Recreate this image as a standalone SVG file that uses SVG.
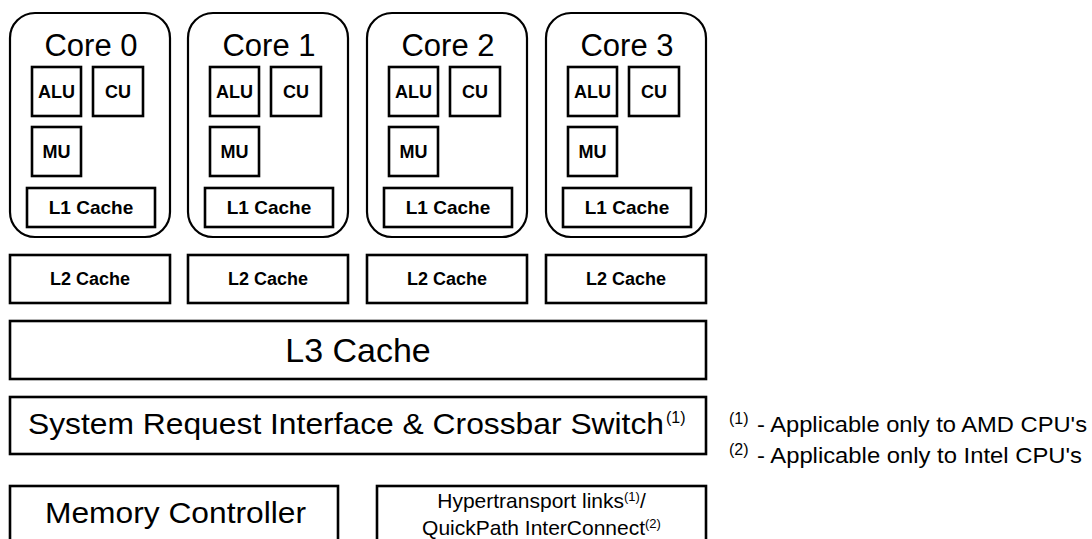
<svg xmlns="http://www.w3.org/2000/svg" width="1092" height="539" viewBox="0 0 1092 539">
<style>
  .core{fill:#fff;stroke:#000;stroke-width:2.2}
  .box{fill:#fff;stroke:#000;stroke-width:2.6}
  .b{font-family:"Liberation Sans",Arial,sans-serif;font-weight:bold;font-size:18px;text-anchor:middle;fill:#000}
  .r{font-family:"Liberation Sans",Arial,sans-serif;font-size:31px;text-anchor:middle;fill:#000}
  .s{font-family:"Liberation Sans",Arial,sans-serif;fill:#000}
</style>
<defs>
  <g id="coreTpl">
    <rect class="core" x="0" y="13" width="160" height="224" rx="25" ry="25"/>
    <rect class="box" x="22" y="67" width="49" height="49"/>
    <text class="b" x="46.5" y="98">ALU</text>
    <rect class="box" x="83" y="67" width="50" height="49"/>
    <text class="b" x="108" y="98">CU</text>
    <rect class="box" x="22" y="127" width="49" height="49"/>
    <text class="b" x="46.5" y="158">MU</text>
    <rect class="box" x="17" y="188" width="128" height="39"/>
    <text class="b" x="81" y="214" style="font-size:19px">L1 Cache</text>
  </g>
</defs>
<g id="core0" transform="translate(10,0)">
  <use href="#coreTpl"/>
  <text class="r" x="81" y="56">Core 0</text>
</g>
<g id="core1" transform="translate(188,0)">
  <use href="#coreTpl"/>
  <text class="r" x="81" y="56">Core 1</text>
</g>
<g id="core2" transform="translate(367,0)">
  <use href="#coreTpl"/>
  <text class="r" x="81" y="56">Core 2</text>
</g>
<g id="core3" transform="translate(546,0)">
  <use href="#coreTpl"/>
  <text class="r" x="81" y="56">Core 3</text>
</g>
<g id="l2-0"><rect class="box" x="10" y="255" width="160" height="48"/><text class="b" x="90" y="285">L2 Cache</text></g>
<g id="l2-1"><rect class="box" x="188" y="255" width="160" height="48"/><text class="b" x="268" y="285">L2 Cache</text></g>
<g id="l2-2"><rect class="box" x="367" y="255" width="160" height="48"/><text class="b" x="447" y="285">L2 Cache</text></g>
<g id="l2-3"><rect class="box" x="546" y="255" width="160" height="48"/><text class="b" x="626" y="285">L2 Cache</text></g>
<g id="l3">
  <rect class="box" x="10" y="321" width="696" height="58"/>
  <text class="r" x="358" y="362" style="font-size:34px">L3 Cache</text>
</g>
<g id="sri">
  <rect class="box" x="10" y="397" width="696" height="57"/>
  <text class="s" x="28" y="434" font-size="30" textLength="636" lengthAdjust="spacingAndGlyphs">System Request Interface &amp; Crossbar Switch</text>
  <text class="s" x="666" y="423" font-size="16">(1)</text>
</g>
<g id="mem">
  <rect class="box" x="10" y="486" width="328" height="80"/>
  <text class="s" x="45" y="523" font-size="30" textLength="261" lengthAdjust="spacingAndGlyphs">Memory Controller</text>
</g>
<g id="ht">
  <rect class="box" x="377" y="486" width="329" height="80"/>
  <text class="s" x="541.5" y="508" font-size="21" text-anchor="middle">Hypertransport links<tspan font-size="13" dy="-7">(1)</tspan><tspan dy="7">/</tspan></text>
  <text class="s" x="541.5" y="535" font-size="21" text-anchor="middle">QuickPath InterConnect<tspan font-size="13" dy="-7">(2)</tspan></text>
</g>
<g id="notes">
  <text class="s" x="729" y="424" font-size="16">(1)</text>
  <text class="s" x="757" y="432" font-size="22" textLength="330" lengthAdjust="spacingAndGlyphs">- Applicable only to AMD CPU's</text>
  <text class="s" x="729" y="455" font-size="16">(2)</text>
  <text class="s" x="757" y="463" font-size="22" textLength="325" lengthAdjust="spacingAndGlyphs">- Applicable only to Intel CPU's</text>
</g>
<g id="connectors"></g>
</svg>
